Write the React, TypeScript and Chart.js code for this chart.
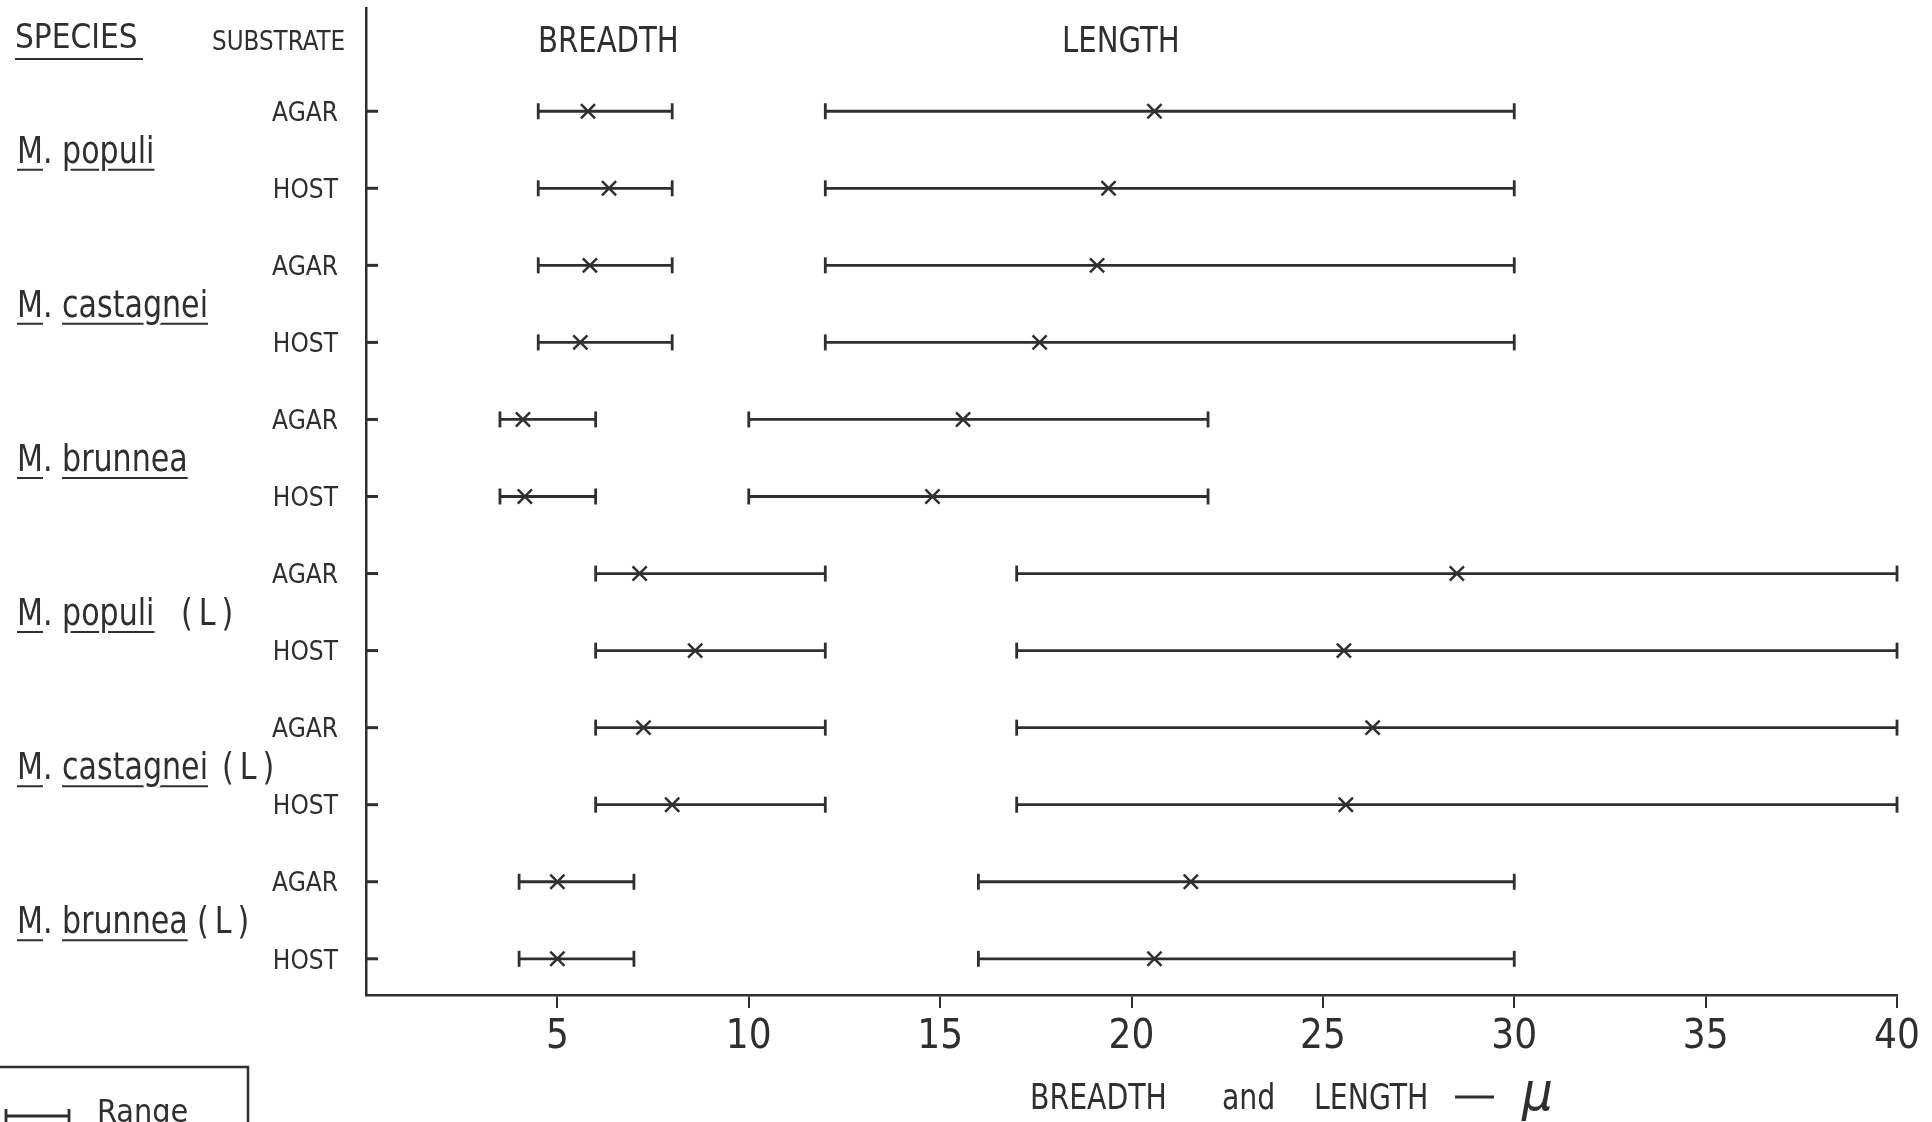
import React, { useEffect, useRef } from "react";
import { Chart, registerables } from "chart.js";

Chart.register(...registerables);

const INK = "#2f2f2f";
const FONT = "'DejaVu Sans Condensed', 'Liberation Sans Narrow', 'DejaVu Sans', sans-serif";

// Substrate of each row, top to bottom
const substrates = ["AGAR", "HOST", "AGAR", "HOST", "AGAR", "HOST", "AGAR", "HOST", "AGAR", "HOST", "AGAR", "HOST"];

// One species per pair of rows
const speciesNames = ["M. populi", "M. castagnei", "M. brunnea", "M. populi", "M. castagnei", "M. brunnea"];
const speciesTags = ["", "", "", "(\u2009L\u2009)", "(\u2009L\u2009)", "(\u2009L\u2009)"];

// Spore breadth (µ) per row: range and mean
const breadthMin = [4.5, 4.5, 4.5, 4.5, 3.5, 3.5, 6, 6, 6, 6, 4, 4];
const breadthMax = [8, 8, 8, 8, 6, 6, 12, 12, 12, 12, 7, 7];
const breadthMean = [5.8, 6.35, 5.85, 5.6, 4.1, 4.15, 7.15, 8.6, 7.25, 8.0, 5.0, 5.0];

// Spore length (µ) per row: range and mean
const lengthMin = [12, 12, 12, 12, 10, 10, 17, 17, 17, 17, 16, 16];
const lengthMax = [30, 30, 30, 30, 22, 22, 40, 40, 40, 40, 30, 30];
const lengthMean = [20.6, 19.4, 19.1, 17.6, 15.6, 14.8, 28.5, 25.55, 26.3, 25.6, 21.55, 20.6];

// x axis tick values (µ)
const xTickValues = [0, 5, 10, 15, 20, 25, 30, 35, 40];

function font(size: number, style = "normal") {
  return `${style} normal ${size}px ${FONT}`;
}

function drawText(ctx: CanvasRenderingContext2D, text: string, x: number, y: number, size: number, sx = 1, style = "normal") {
  ctx.save();
  ctx.font = font(size, style);
  ctx.fillStyle = INK;
  ctx.textAlign = "left";
  ctx.textBaseline = "alphabetic";
  ctx.translate(x, y);
  ctx.scale(sx, 1);
  ctx.fillText(text, 0, 0);
  ctx.restore();
}

const annotations = {
  id: "annotations",
  afterDraw(chart: any) {
    const ctx: CanvasRenderingContext2D = chart.ctx;
    const ys = chart.scales.y;
    const area = chart.chartArea;

    ctx.save();
    ctx.strokeStyle = INK;
    ctx.lineCap = "butt";

    // inward tick marks on the substrate axis
    ctx.lineWidth = 3;
    substrates.forEach((_, i) => {
      const y = ys.getPixelForValue(i);
      ctx.beginPath();
      ctx.moveTo(area.left, y);
      ctx.lineTo(area.left + 12, y);
      ctx.stroke();
    });

    // column headings
    drawText(ctx, "SPECIES", 15, 48, 33, 1);
    ctx.lineWidth = 2;
    ctx.beginPath();
    ctx.moveTo(15, 59);
    ctx.lineTo(143, 59);
    ctx.stroke();
    drawText(ctx, "SUBSTRATE", 212, 50, 27, 0.95);
    drawText(ctx, "BREADTH", 538, 52, 36, 0.9);
    drawText(ctx, "LENGTH", 1062, 52, 36, 0.9);

    // species names, centred between their AGAR and HOST rows
    const sx = 0.88;
    const tagX = [0, 0, 0, 181, 222, 197];
    speciesNames.forEach((name, k) => {
      const yMid = (ys.getPixelForValue(2 * k) + ys.getPixelForValue(2 * k + 1)) / 2;
      const base = yMid + 13;
      const x = 17;
      ctx.save();
      ctx.font = font(38);
      const [genus, epithet] = name.split(" ");
      const wGenus = ctx.measureText(genus.replace(".", "")).width * sx;
      const wPrefix = ctx.measureText(genus + " ").width * sx;
      const wWord = ctx.measureText(epithet).width * sx;
      ctx.strokeStyle = INK;
      ctx.lineWidth = 2;
      ctx.beginPath();
      ctx.moveTo(x, base + 7);
      ctx.lineTo(x + wGenus, base + 7);
      ctx.moveTo(x + wPrefix, base + 7);
      ctx.lineTo(x + wPrefix + wWord, base + 7);
      ctx.stroke();
      ctx.translate(x, base);
      ctx.scale(sx, 1);
      ctx.strokeStyle = "#ffffff";
      ctx.lineWidth = 7;
      ctx.lineJoin = "round";
      ctx.strokeText(name, 0, 0);
      ctx.fillStyle = INK;
      ctx.fillText(name, 0, 0);
      ctx.restore();
      if (speciesTags[k]) {
        drawText(ctx, speciesTags[k], tagX[k], base, 38, sx);
      }
    });

    // axis title
    drawText(ctx, "BREADTH", 1030, 1109, 35, 0.9);
    drawText(ctx, "and", 1222, 1109, 35, 0.9);
    drawText(ctx, "LENGTH", 1314, 1109, 35, 0.9);
    ctx.lineWidth = 3;
    ctx.beginPath();
    ctx.moveTo(1455, 1097);
    ctx.lineTo(1494, 1097);
    ctx.stroke();
    drawText(ctx, "\u03BC", 1522, 1110, 54, 1, "italic");

    // key
    ctx.lineWidth = 2.5;
    ctx.beginPath();
    ctx.moveTo(-2, 1067);
    ctx.lineTo(248, 1067);
    ctx.lineTo(248, 1130);
    ctx.stroke();
    ctx.lineWidth = 2.8;
    ctx.beginPath();
    ctx.moveTo(6, 1116);
    ctx.lineTo(69, 1116);
    ctx.moveTo(6, 1109);
    ctx.lineTo(6, 1123);
    ctx.moveTo(69, 1109);
    ctx.lineTo(69, 1123);
    ctx.stroke();
    drawText(ctx, "Range", 97, 1122, 32, 1);

    ctx.restore();
  },
};

function rangeDataset(min: number, max: number, row: number) {
  return {
    type: "line" as const,
    data: [
      { x: min, y: row },
      { x: max, y: row },
    ],
    borderColor: INK,
    borderWidth: 2.8,
    pointStyle: "line" as const,
    rotation: 90,
    pointRadius: 8,
    pointBorderWidth: 2.8,
    pointBorderColor: INK,
    pointBackgroundColor: INK,
    tension: 0,
    clip: false as const,
  };
}

export default function App() {
  const canvasRef = useRef<HTMLCanvasElement | null>(null);

  useEffect(() => {
    const canvas = canvasRef.current;
    if (!canvas) return;

    const datasets: any[] = [];
    substrates.forEach((_, i) => {
      datasets.push(rangeDataset(breadthMin[i], breadthMax[i], i));
      datasets.push(rangeDataset(lengthMin[i], lengthMax[i], i));
    });
    datasets.push({
      type: "scatter",
      data: [
        ...breadthMean.map((m, i) => ({ x: m, y: i })),
        ...lengthMean.map((m, i) => ({ x: m, y: i })),
      ],
      pointStyle: "crossRot",
      pointRadius: 10,
      pointBorderWidth: 2.5,
      pointBorderColor: INK,
      showLine: false,
      clip: false,
    });

    const chart = new Chart(canvas, {
      type: "line",
      data: { datasets },
      options: {
        animation: false,
        responsive: false,
        events: [],
        layout: { autoPadding: false, padding: { left: 0, top: 8, right: 35, bottom: 0 } },
        plugins: { legend: { display: false }, tooltip: { enabled: false } },
        scales: {
          x: {
            type: "linear",
            min: 0,
            max: 40,
            afterBuildTicks: (scale: any) => {
              scale.ticks = xTickValues.map((v) => ({ value: v }));
            },
            afterFit: (scale: any) => {
              scale.height = 127;
              scale.paddingLeft = 0;
              scale.paddingRight = 0;
            },
            ticks: {
              callback: (v: any) => (v === 0 ? "" : String(v)),
              color: INK,
              font: { family: FONT, size: 40 },
              padding: 6,
              maxRotation: 0,
              autoSkip: false,
            },
            grid: {
              drawOnChartArea: false,
              drawTicks: true,
              tickLength: 13,
              lineWidth: 2,
              color: (c: any) => (c.tick && c.tick.value === 0 ? "rgba(0,0,0,0)" : INK),
            },
            border: { display: true, color: INK, width: 2.5 },
          },
          y: {
            type: "linear",
            reverse: true,
            min: -1.34,
            max: 11.47,
            afterBuildTicks: (scale: any) => {
              scale.ticks = substrates.map((_, i) => ({ value: i }));
            },
            afterFit: (scale: any) => {
              scale.width = 366;
              scale.paddingTop = 0;
              scale.paddingBottom = 0;
            },
            ticks: {
              callback: (v: any) => substrates[v] ?? "",
              color: INK,
              font: { family: FONT, size: 26 },
              padding: 20,
              labelOffset: 3,
              autoSkip: false,
            },
            grid: { display: false },
            border: { display: true, color: INK, width: 2.5 },
          },
        },
      },
      plugins: [annotations],
    });

    return () => chart.destroy();
  }, []);

  return (
    <div style={{ position: "fixed", left: 0, top: 0, width: 1932, height: 1122, background: "#ffffff", overflow: "hidden" }}>
      <canvas ref={canvasRef} width={1932} height={1122} style={{ display: "block" }} />
    </div>
  );
}
